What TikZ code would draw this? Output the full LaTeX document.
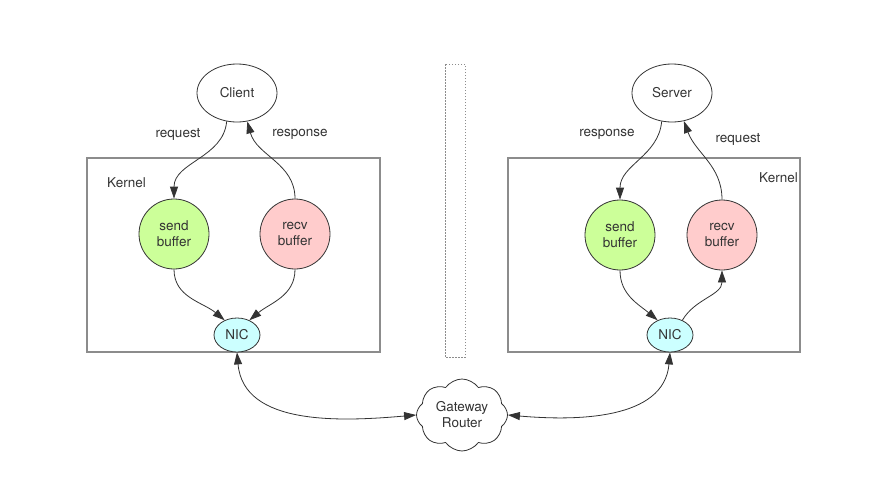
\documentclass[tikz,border=0pt]{standalone}
\usepackage{fontspec}
\setmainfont{TeX Gyre Heros}
\usetikzlibrary{arrows.meta,shapes.geometric,shapes.symbols}
\definecolor{sendgreen}{HTML}{CCFF99}
\definecolor{recvpink}{HTML}{FFCCCC}
\definecolor{niccyan}{HTML}{CCFFFF}
\definecolor{inkgray}{HTML}{333333}
\definecolor{boxgray}{HTML}{8C8C8C}
\begin{document}
\begin{tikzpicture}[x=1pt,y=-1pt,>={Triangle[length=12pt,width=8pt]}]
\tikzstyle{every node}+=[inner sep=0pt,text=inkgray,font=\fontsize{13.5}{16}\selectfont]
\tikzstyle{host}=[draw=inkgray,line width=0.8pt,ellipse,minimum width=80pt,minimum height=58pt]
\tikzstyle{buffer}=[draw=inkgray,line width=0.8pt,circle,minimum size=70pt,align=center]
\tikzstyle{nic}=[draw=inkgray,line width=0.8pt,fill=niccyan,ellipse,minimum width=46pt,minimum height=34pt]
\tikzstyle{link}=[draw=inkgray,line width=0.8pt]
\tikzstyle{kernelbox}=[draw=boxgray,line width=1.4pt]
\useasboundingbox (0,0) rectangle (896,490);
\draw [kernelbox] (87,158) rectangle (380,352);
\draw [kernelbox] (508,158) rectangle (800,352);
\draw [boxgray,line width=1pt,dash pattern=on 1.5pt off 1.5pt] (445,64) rectangle (465,357);
\node [host] (client) at (237,93) {Client};
\node [host] (server) at (672,93) {Server};
\node [anchor=west] (kernelL) at (107,183) {Kernel};
\node [anchor=west] (kernelR) at (759,178) {Kernel};
\node [buffer,fill=sendgreen] (sendL) at (174,234) {send\\buffer};
\node [buffer,fill=recvpink] (recvL) at (295,234) {recv\\buffer};
\node [buffer,fill=sendgreen] (sendR) at (620,235) {send\\buffer};
\node [buffer,fill=recvpink] (recvR) at (722,235) {recv\\buffer};
\node [nic] (nicL) at (237,335) {NIC};
\node [nic] (nicR) at (670,335) {NIC};
\node [draw=inkgray,line width=0.8pt,cloud,cloud puffs=8,cloud puff arc=110,aspect=1.25,minimum width=91pt,minimum height=72pt,align=center] (gw) at (462,415) {Gateway\\Router};
\node (reqL) at (178,134) {request};
\node (resL) at (300,134) {response};
\node (resR) at (607,134) {response};
\node (reqR) at (738,139) {request};
\draw [link,->] (client.250) to[out=-95,in=90] (sendL.north);
\draw [link,->] (recvL.north) to[out=90,in=-75] (client.290);
\draw [link,->] (sendL.south) to[out=-90,in=140] (nicL.130);
\draw [link,->] (recvL.south) to[out=-90,in=40] (nicL.50);
\draw [link,<->] (nicL.south) to[out=-85,in=185] (gw.west);
\draw [link,->] (server.250) to[out=-95,in=90] (sendR.north);
\draw [link,->] (recvR.north) to[out=90,in=-70] (server.293);
\draw [link,->] (sendR.south) to[out=-90,in=140] (nicR.130);
\draw [link,->] (nicR.50) to[out=60,in=-90] (recvR.south);
\draw [link,<->] (gw.east) to[out=-5,in=-95] (nicR.south);
\end{tikzpicture}
\end{document}
